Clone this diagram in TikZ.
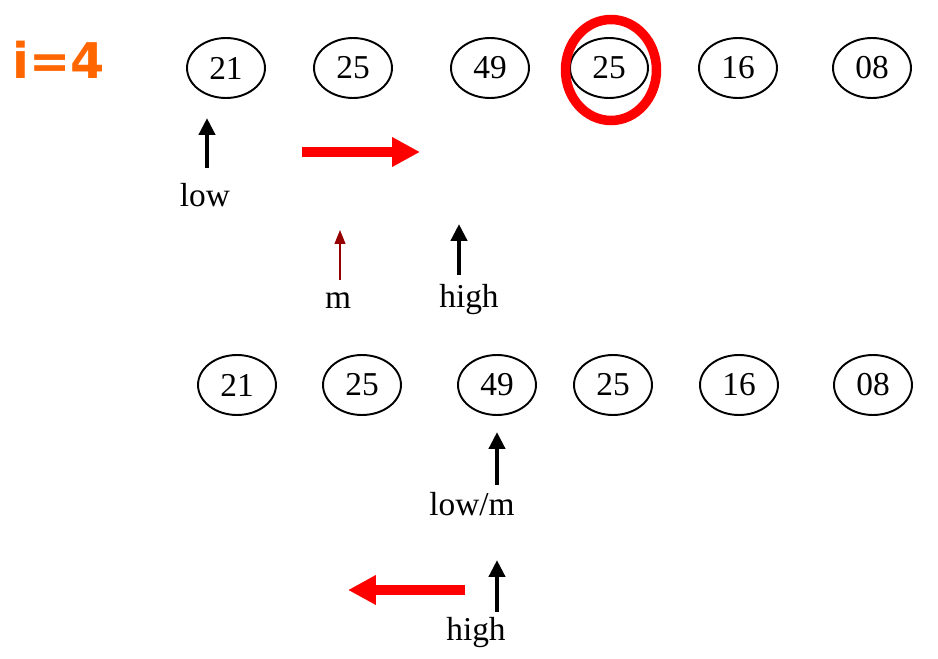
\documentclass[tikz,border=0pt]{standalone}
\usepackage{fontspec}
\setmainfont{Liberation Serif}
\newfontfamily\headfont{DejaVu Sans}
\usetikzlibrary{arrows.meta,positioning,shapes.geometric}
\definecolor{headorange}{RGB}{255,102,0}
\definecolor{mred}{RGB}{150,0,0}

\begin{document}
\begin{tikzpicture}[x=0.02cm, y=-0.02cm, every node/.style={font=\fontsize{19}{22}\selectfont},
  cell/.style={draw,ellipse,line width=1.1pt,minimum width=1.56cm,minimum height=1.2cm,inner sep=0pt},
  ptr/.style={line width=2.6pt,-{Triangle[length=3.4mm,width=3.2mm]}},
  mptr/.style={mred,line width=0.6pt,-{Triangle[length=2.8mm,width=2.2mm]}},
  move/.style={red,line width=5.6pt,-{Triangle[length=5.6mm,width=5.6mm]}}]
\useasboundingbox (0,0) rectangle (938,659);
\node[headorange,font=\headfont\bfseries\fontsize{28}{30}\selectfont] (step) at (59,60) {i=4};
% first pass
\node[cell] (a1) at (226,68) {21};
\node[cell] (a2) at (353,68) {25};
\node[cell] (a3) at (490,68) {49};
\node[cell] (a4) at (609,68) {25};
\node[cell] (a5) at (738,68) {16};
\node[cell] (a6) at (872,68) {08};
\draw[red,line width=5.4pt] (611,70) ellipse [x radius=45.5,y radius=50.5];
\node (low1) at (205,195) {low};
\coordinate (low1t) at (207,168);
\coordinate (low1h) at (207,118);
\draw[ptr] (low1t) -- (low1h);
\coordinate (go1) at (302,152);
\coordinate (go1h) at (420,152);
\draw[move] (go1) -- (go1h);
\node (m1) at (338,301) {m};
\coordinate (m1t) at (340,280);
\coordinate (m1h) at (340,230);
\draw[mptr] (m1t) -- (m1h);
\node (high1) at (469,300) {high};
\coordinate (high1t) at (459,275);
\coordinate (high1h) at (459,224);
\draw[ptr] (high1t) -- (high1h);
% second pass
\node[cell] (b1) at (237,385) {21};
\node[cell] (b2) at (362,385) {25};
\node[cell] (b3) at (497,385) {49};
\node[cell] (b4) at (613,385) {25};
\node[cell] (b5) at (739,385) {16};
\node[cell] (b6) at (873,385) {08};
\node (lowm) at (472,504) {low/m};
\coordinate (lowmt) at (497,485);
\coordinate (lowmh) at (497,432);
\draw[ptr] (lowmt) -- (lowmh);
\node (high2) at (476,633) {high};
\coordinate (high2t) at (497,612);
\coordinate (high2h) at (497,560);
\draw[ptr] (high2t) -- (high2h);
\coordinate (go2) at (465,590);
\coordinate (go2h) at (348,590);
\draw[move] (go2) -- (go2h);
\end{tikzpicture}
\end{document}
